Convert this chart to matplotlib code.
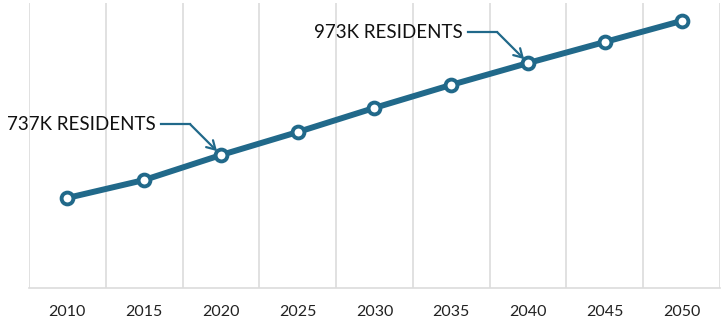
import numpy as np
import matplotlib.pyplot as plt
import matplotlib.transforms as mtransforms

# population projection, thousands of residents
years = [2010, 2015, 2020, 2025, 2030, 2035, 2040, 2045, 2050]
residents = [627, 673, 737, 796, 858, 917, 973, 1027, 1081]
callouts = {2020: "737K RESIDENTS", 2040: "973K RESIDENTS"}

line_color = "#21698a"
grid_color = "#dcdcdc"

plt.rcParams['font.family'] = ['Lato', 'DejaVu Sans']

fig = plt.figure(figsize=(7.21, 3.25), dpi=100)
ax = fig.add_axes([29 / 721, 1 - 288 / 325, 691 / 721, 285 / 325])

ax.plot(years, residents, color=line_color, lw=4.3, marker='o', ms=8.5,
        mfc='white', mec=line_color, mew=2.8, zorder=3, solid_capstyle='round')

# gridlines sit between the categories
ax.set_xlim(years[0] - 2.5, years[-1] + 2.5)
ax.set_ylim(396, 1127)
ax.set_xticks(years)
ax.set_xticklabels([str(y) for y in years], fontsize=11.5, color='#222222')
ax.set_xticks(np.arange(years[0] - 2.5, years[-1] + 3, 5), minor=True)
ax.grid(which='minor', axis='x', color=grid_color, lw=1.2)
ax.tick_params(axis='x', which='both', length=0, pad=12)
ax.set_yticks([])
for side in ['top', 'left', 'right']:
    ax.spines[side].set_visible(False)
ax.spines['bottom'].set_color(grid_color)
ax.spines['bottom'].set_linewidth(1.2)

# callouts: text, short horizontal leader, then angled arrow into the point
for yr, label in callouts.items():
    val = residents[years.index(yr)]
    pts = mtransforms.Affine2D().scale(fig.dpi / 72) + \
        mtransforms.ScaledTranslation(yr, val, ax.transData)
    ax.text(-47, 22, label, transform=pts, ha='right', va='center',
            fontsize=13.5, color='#111111', zorder=4)
    ax.plot([-43, -22], [22, 22], transform=pts, color=line_color, lw=1.6,
            zorder=4, clip_on=False)
    ax.annotate('', xy=(yr, val), xytext=(-22, 22), textcoords='offset points',
                arrowprops=dict(arrowstyle='->,head_length=0.6,head_width=0.35',
                                color=line_color, lw=1.6, shrinkA=0, shrinkB=4),
                zorder=4)

fig.savefig('out.png', dpi=100)
